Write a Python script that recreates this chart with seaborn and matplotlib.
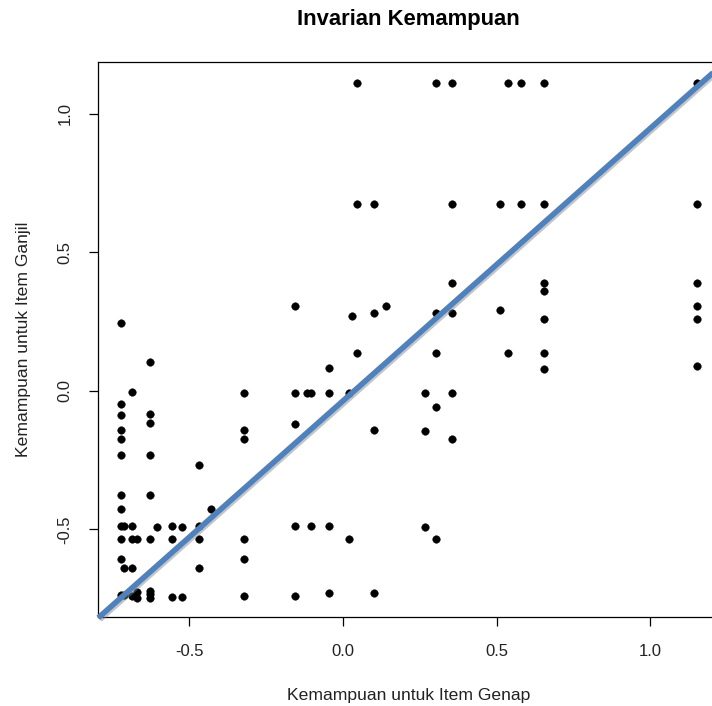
import matplotlib
matplotlib.use("Agg")
import matplotlib.pyplot as plt
import matplotlib.patheffects as pe
import seaborn as sns
import pandas as pd

# Ability estimates: even items (x) vs odd items (y)
x_genap = (
    [-0.722] * 12 + [-0.711] * 3 + [-0.685] * 5 + [-0.671] * 3 + [-0.627] * 9 +
    [-0.606] + [-0.555] * 3 + [-0.525] * 2 + [-0.468] * 4 + [-0.429] + [-0.321] * 6 +
    [-0.156] * 5 + [-0.118] + [-0.104] * 2 + [-0.045] * 4 + [0.021] * 2 + [0.029] +
    [0.044] * 3 + [0.100] * 4 + [0.140] + [0.266] * 3 + [0.303] * 5 + [0.355] * 6 +
    [0.510] * 2 + [0.536] * 2 + [0.578] * 2 + [0.654] * 7 + [1.150] * 6
)
y_ganjil = (
    [0.245, -0.047, -0.089, -0.141, -0.173, -0.231, -0.375, -0.426, -0.488, -0.535, -0.609, -0.739] +
    [-0.488, -0.639, -0.739] +
    [-0.006, -0.488, -0.535, -0.639, -0.740] +
    [-0.535, -0.725, -0.750] +
    [0.105, -0.084, -0.118, -0.231, -0.375, -0.535, -0.722, -0.734, -0.747] +
    [-0.492] +
    [-0.488, -0.535, -0.745] +
    [-0.492, -0.745] +
    [-0.268, -0.488, -0.535, -0.639] +
    [-0.426] +
    [-0.009, -0.143, -0.173, -0.535, -0.606, -0.741] +
    [0.307, -0.007, -0.121, -0.488, -0.741] +
    [-0.007] +
    [-0.007, -0.488] +
    [0.081, -0.007, -0.488, -0.729] +
    [-0.007, -0.535] +
    [0.270] +
    [1.112, 0.673, 0.135] +
    [0.673, 0.282, -0.141, -0.729] +
    [0.307] +
    [-0.007, -0.145, -0.491] +
    [1.112, 0.282, 0.135, -0.059, -0.535] +
    [1.112, 0.673, 0.390, 0.282, -0.009, -0.174] +
    [0.673, 0.291] +
    [1.112, 0.135] +
    [1.112, 0.673] +
    [1.112, 0.673, 0.390, 0.361, 0.261, 0.135, 0.079] +
    [1.112, 0.673, 0.390, 0.307, 0.261, 0.089]
)

# Reference line as drawn in the picture
ref_line_x = [-0.796, 1.225]
ref_line_y = [-0.820, 1.170]

x_ticks = [-0.5, 0.0, 0.5, 1.0]
y_ticks = [-0.5, 0.0, 0.5, 1.0]
tick_labels = ["-0.5", "0.0", "0.5", "1.0"]

title = "Invarian Kemampuan"
xlabel = "Kemampuan untuk Item Genap"
ylabel = "Kemampuan untuk Item Ganjil"

df = pd.DataFrame({"x": x_genap, "y": y_ganjil})

sns.set_style("white")
plt.rcParams["font.family"] = ["Liberation Sans", "DejaVu Sans"]

fig = plt.figure(figsize=(7.12, 7.06), dpi=100)
ax = fig.add_axes([0.138, 0.126, 0.8727, 0.786])

sns.scatterplot(data=df, x="x", y="y", ax=ax, color="black", s=30,
                edgecolor="black", linewidth=0.3, zorder=3)

ax.plot(ref_line_x, ref_line_y, color="#4F81BD", lw=4.0, zorder=4,
        solid_capstyle="butt", clip_on=False,
        path_effects=[pe.SimpleLineShadow(offset=(1.2, -1.2), shadow_color="gray", alpha=0.45),
                      pe.Normal()])

ax.set_xlim(-0.796, 1.225)
ax.set_ylim(-0.817, 1.187)

ax.set_xticks(x_ticks)
ax.set_xticklabels(tick_labels)
ax.set_yticks(y_ticks)
ax.set_yticklabels(tick_labels, rotation=90, va="center")

ax.tick_params(axis="both", which="major", direction="out", length=6.5, width=0.9,
               color="black", labelsize=12, labelcolor="#222222", bottom=True, left=True)
ax.tick_params(axis="x", pad=13)
ax.tick_params(axis="y", pad=12)

for s in ax.spines.values():
    s.set_color("black")
    s.set_linewidth(0.9)
    s.set_visible(True)

ax.set_xlabel(xlabel, fontsize=12.6, color="#222222", labelpad=21)
ax.set_ylabel(ylabel, fontsize=12.6, color="#222222", labelpad=19)
fig.text(0.573, 0.972, title, ha="center", va="center", fontsize=15.8, fontweight="bold",
         color="black")

fig.savefig("out.png", dpi=100)
